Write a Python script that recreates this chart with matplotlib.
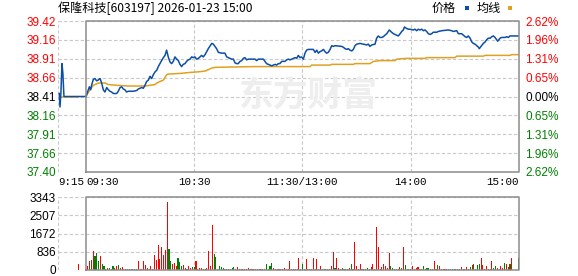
import numpy as np
import matplotlib
matplotlib.use('Agg')
import matplotlib.pyplot as plt
import matplotlib.transforms as mtransforms
from matplotlib.patches import Rectangle

# ---- data (minutes after 9:30, price) ----
title = '保隆科技[603197] 2026-01-23 15:00'

price_time = [0, 1.3, 1.9, 2.6, 3.1, 4.1, 5.0, 5.9, 6.8, 7.8, 8.7,
              9.6, 10.5, 11.5, 12.4, 13.3, 14.2, 15.2, 17.0, 17.9, 18.9,
              19.8, 20.7, 21.6, 22.5, 23.5, 26.2, 28.1, 29.0, 29.9, 30.9,
              31.8, 32.7, 33.6, 34.6, 35.5, 36.4, 37.3, 38.3, 39.2, 40.1,
              41.0, 41.9, 42.9, 43.8, 44.7, 45.6, 46.6, 47.5, 48.4, 49.3,
              50.3, 51.2, 52.1, 53.0, 53.9, 54.9, 55.8, 56.7, 57.7, 58.6,
              59.5, 60.4, 61.3, 62.3, 63.2, 64.1, 65.0, 66.0, 67.8, 69.7,
              70.6, 71.5, 72.4, 73.4, 75.2, 77.0, 78.0, 78.9, 79.8, 80.7,
              81.7, 82.6, 83.5, 84.4, 85.4, 86.3, 87.2, 88.1, 89.1, 90.0,
              93.7, 94.6, 95.5, 98.3, 99.2, 100.1, 101.1, 102.0, 102.9, 103.8,
              104.8, 105.7, 106.6, 107.5, 108.5, 110.3, 111.2, 112.2, 113.1, 114.0,
              115.0, 115.9, 116.8, 117.7, 118.6, 119.5, 120.5, 121.4, 122.3, 123.2,
              126.0, 127.0, 127.9, 128.8, 129.7, 130.6, 131.6, 132.5, 133.4, 134.3,
              135.3, 136.2, 137.1, 138.0, 141.7, 142.6, 143.6, 144.5, 145.4, 146.3,
              147.3, 148.2, 149.1, 150.0, 151.9, 153.7, 155.6, 156.5, 157.4, 158.4,
              160.2, 161.1, 162.0, 163.0, 163.9, 164.8, 165.7, 166.7, 168.1, 169.4,
              170.4, 171.3, 172.2, 173.1, 174.1, 175.0, 175.9, 176.5, 177.7, 178.7,
              179.6, 181.4, 182.4, 183.3, 184.2, 185.1, 186.1, 187.0, 187.9, 188.8,
              189.8, 190.7, 191.6, 192.5, 194.4, 195.3, 197.2, 200.8, 202.7, 203.6,
              205.5, 206.4, 208.2, 209.2, 210.1, 211.0, 211.9, 212.9, 213.8, 214.7,
              215.6, 216.6, 217.5, 218.0, 219.3, 220.2, 221.2, 222.1, 223.0, 224.0,
              224.9, 225.8, 226.7, 227.6, 228.2, 229.5, 230.4, 232.3, 233.2, 234.1,
              235.0, 236.9, 240]
price_value = [38.41, 38.50, 38.54, 38.50, 38.56, 38.64, 38.65, 38.62, 38.63, 38.65, 38.59,
               38.50, 38.47, 38.53, 38.50, 38.48, 38.47, 38.45, 38.45, 38.48, 38.53,
               38.54, 38.51, 38.50, 38.47, 38.48, 38.48, 38.49, 38.51, 38.52, 38.53,
               38.52, 38.56, 38.61, 38.63, 38.68, 38.65, 38.70, 38.74, 38.76, 38.81,
               38.85, 38.89, 38.93, 38.96, 39.03, 38.94, 38.87, 38.85, 38.88, 38.94,
               38.91, 38.89, 38.84, 38.81, 38.84, 38.85, 38.88, 38.90, 38.91, 38.94,
               38.93, 38.94, 38.91, 38.92, 38.94, 38.96, 38.94, 38.97, 39.05, 39.12,
               39.11, 39.08, 39.05, 39.00, 38.99, 38.99, 38.94, 38.93, 38.92, 38.91,
               38.91, 38.86, 38.85, 38.85, 38.88, 38.89, 38.92, 38.93, 38.90, 38.91,
               38.91, 38.89, 38.91, 38.91, 38.88, 38.85, 38.84, 38.83, 38.82, 38.83,
               38.84, 38.83, 38.85, 38.85, 38.88, 38.88, 38.90, 38.91, 38.90, 38.91,
               38.92, 38.93, 38.92, 38.96, 38.93, 38.94, 38.91, 38.99, 39.03, 39.04,
               39.04, 39.00, 39.03, 38.99, 39.01, 39.02, 39.04, 39.01, 38.99, 39.00,
               39.04, 39.09, 39.08, 39.09, 39.08, 39.07, 39.05, 39.04, 39.05, 39.03,
               39.02, 39.04, 39.09, 39.11, 39.12, 39.11, 39.10, 39.11, 39.08, 39.10,
               39.11, 39.19, 39.22, 39.20, 39.20, 39.21, 39.23, 39.25, 39.30, 39.27,
               39.25, 39.24, 39.23, 39.22, 39.25, 39.28, 39.30, 39.34, 39.32, 39.31,
               39.31, 39.30, 39.31, 39.29, 39.31, 39.30, 39.31, 39.29, 39.30, 39.28,
               39.25, 39.24, 39.25, 39.27, 39.27, 39.28, 39.29, 39.30, 39.29, 39.28,
               39.29, 39.25, 39.25, 39.23, 39.21, 39.20, 39.22, 39.19, 39.14, 39.12,
               39.11, 39.09, 39.07, 39.05, 39.09, 39.12, 39.14, 39.17, 39.19, 39.19,
               39.21, 39.22, 39.20, 39.17, 39.15, 39.19, 39.20, 39.20, 39.21, 39.20,
               39.22, 39.22, 39.22]

avg_time = [0, 2.2, 4.1, 6.8, 10.5, 12.4, 17.0, 23.5, 32.7, 35.5,
            38.3, 39.2, 41.0, 42.9, 44.7, 45.6, 53.0, 56.7, 62.3, 66.0,
            69.7, 71.5, 92.8, 124.2, 125.1, 135.3, 136.2, 148.2, 149.1, 157.4,
            159.3, 163.0, 171.3, 172.2, 177.7, 187.9, 188.8, 204.5, 205.5, 220.2,
            221.2, 235.0, 236.0, 240]
avg_value = [38.41, 38.50, 38.56, 38.59, 38.59, 38.57, 38.56, 38.55, 38.55, 38.56,
             38.57, 38.59, 38.61, 38.63, 38.70, 38.71, 38.72, 38.73, 38.74, 38.75,
             38.79, 38.80, 38.81, 38.81, 38.83, 38.83, 38.84, 38.84, 38.85, 38.85,
             38.88, 38.89, 38.89, 38.91, 38.92, 38.92, 38.93, 38.93, 38.95, 38.95,
             38.96, 38.96, 38.97, 38.97]

# call auction 9:15 - 9:30
pre_time = [-14.8, -14.4, -13.9, -13.3, -12.8, -12.2, 0]
pre_value = [38.45, 38.27, 38.45, 38.85, 38.72, 38.41, 38.41]
pre_avg_time = [-14.4, -4.4]
pre_avg_value = [38.40, 38.40]

price_labels = ['37.40', '37.66', '37.91', '38.16', '38.41', '38.66', '38.91', '39.16', '39.42']
pct_labels = ['2.62%', '1.96%', '1.31%', '0.65%', '0.00%', '0.65%', '1.31%', '1.96%', '2.62%']

# volume per minute (1..236, then 15:00), R = up, G = down
vol_values = [166, 424, 469, 878, 620, 772, 424, 651, 287, 166,
              60, 76, 106, 60, 197, 106, 197, 242, 76, 121,
              60, 60, 60, 60, 60, 60, 60, 60, 424, 60,
              60, 424, 242, 90, 60, 166, 60, 696, 469, 1150,
              514, 1059, 696, 923, 3100, 968, 424, 287, 333, 166,
              560, 378, 166, 242, 106, 60, 197, 106, 151, 151,
              424, 60, 106, 106, 60, 60, 106, 878, 197, 2058,
              741, 575, 60, 197, 151, 106, 60, 60, 60, 60,
              106, 151, 60, 151, 60, 60, 60, 60, 60, 106,
              60, 60, 60, 60, 60, 60, 60, 60, 60, 287,
              60, 197, 333, 106, 60, 60, 60, 60, 60, 106,
              60, 60, 424, 60, 60, 60, 60, 560, 60, 287,
              60, 514, 60, 60, 60, 560, 60, 514, 60, 197,
              60, 60, 60, 60, 60, 197, 832, 106, 560, 106,
              60, 106, 60, 60, 60, 106, 287, 60, 1286, 197,
              60, 287, 60, 60, 60, 106, 60, 151, 287, 60,
              1982, 1059, 60, 151, 287, 197, 106, 787, 197, 106,
              60, 60, 60, 151, 106, 1059, 242, 60, 60, 60,
              197, 60, 106, 151, 60, 60, 197, 60, 106, 106,
              60, 60, 424, 60, 242, 197, 60, 60, 60, 60,
              60, 60, 60, 60, 60, 60, 60, 151, 60, 60,
              151, 60, 151, 242, 287, 60, 242, 287, 560, 242,
              60, 197, 60, 60, 424, 106, 197, 106, 60, 197,
              106, 333, 287, 151, 287, 560,
              560]
vol_dir = list('RRGRGGGRGG' 'GRGGGRRGRR' 'GGGRGGGGRR' 'GRRRGRRRRR'
               'RRRRRGGRRR' 'GGGRRGRRGG' 'RGRRGGRRRR' 'GGRGGGRRGG'
               'GGRRRRRRRR' 'RRRGGRRGGG' 'GGGRRRRRRR' 'RRRGGRRRGG'
               'GRRGGRGRGR' 'GGGGRRRGRR' 'GGRGGRGRRR' 'RRGGGGGRRG'
               'RRGRRRRRGG' 'GGRRGRGGGG' 'RGRRRGGGGG' 'RRRGGRRRRR'
               'GGGGGGGRGR' 'RGGGRGGGRR' 'GRRGRGGRGR' 'RGRRGR' 'G')
vol_time = list(range(1, 237)) + [240]
pre_vol_time = [-4.3]
pre_vol_value = [287]
vol_labels = ['0', '836', '1672', '2507', '3343']

# ---- layout (pixel based) ----
W, H = 578, 276
fig = plt.figure(figsize=(W / 100, H / 100), dpi=100)

def px_box(l, t, r, b):
    return [l / W, 1 - b / H, (r - l) / W, (b - t) / H]

ax = fig.add_axes(px_box(58, 21, 519, 172))
axv = fig.add_axes(px_box(58, 197, 519, 270))

XL, XR = -15.5, 240
GRID = '#c8c8c8'
FRAME = '#8c8c8c'
RED, GREEN, BLACK = '#ff0000', '#008000', '#000000'
NUMFONT = 'Liberation Sans'
CJK = ['Noto Sans CJK SC', 'DejaVu Sans']
dash = (0, (3, 2))

lo, hi = 37.40, 39.42
price_ticks = np.linspace(lo, hi, len(price_labels))
vmax = 3343
vol_ticks = np.linspace(0, vmax, len(vol_labels))

for a, ticks, top in ((ax, price_ticks, hi), (axv, vol_ticks, vmax)):
    bottom = ticks[0]
    a.set_xlim(XL, XR)
    a.set_ylim(bottom, top)
    for s in a.spines.values():
        s.set_visible(False)
    a.set_xticks([])
    a.hlines(ticks, XL, XR, colors=GRID, linestyles=dash, lw=0.8, zorder=0)
    a.vlines([XL, 60, 120, 180], bottom, top, colors=GRID, linestyles=dash, lw=0.8, zorder=0)
    a.plot([0, XR, XR, 0, 0], [bottom, bottom, top, top, bottom], color=FRAME, lw=1.1,
           clip_on=False, zorder=5)

# watermark
ax.text(308 / W, 1 - 95 / H, '东方财富', transform=fig.transFigure, ha='center', va='center',
        fontsize=25, fontweight='bold', color='#eeeeee', family=CJK, zorder=0)

# price + average lines
ax.plot(pre_avg_time, pre_avg_value, color='#e0a020', lw=1.1, zorder=2)
ax.plot(pre_time, pre_value, color='#0d4ea6', lw=1.1, zorder=3)
ax.plot(avg_time, avg_value, color='#e0a020', lw=1.1, zorder=2)
ax.plot(price_time, price_value, color='#0d4ea6', lw=1.1, zorder=3)

# y labels left / right
mid = len(price_labels) // 2
colors = [GREEN] * mid + [BLACK] + [RED] * mid
ax.set_yticks(price_ticks, price_labels)
ax.tick_params(axis='y', length=0, pad=1.5, labelsize=8.5)
for lab, c in zip(ax.get_yticklabels(), colors):
    lab.set_color(c)
    lab.set_family(NUMFONT)

ax2 = ax.twinx()
ax2.set_ylim(lo, hi)
for s in ax2.spines.values():
    s.set_visible(False)
ax2.set_yticks(price_ticks, pct_labels[::-1])
ax2.tick_params(axis='y', length=0, pad=4.5, labelsize=8.5)
for lab, c in zip(ax2.get_yticklabels(), colors):
    lab.set_color(c)
    lab.set_family(NUMFONT)

# time labels
trans = mtransforms.blended_transform_factory(ax.transData, ax.transAxes)
time_labels = [(XL, '9:15', 'left'), (0, '09:30', 'left'), (60, '10:30', 'center'),
               (120, '11:30/13:00', 'center'), (180, '14:00', 'center'), (240, '15:00', 'right')]
for x, s, ha in time_labels:
    ax.text(x, -0.066, s, transform=trans, ha=ha, va='center', fontsize=7.8,
            family='Liberation Mono', color=BLACK)

# volume bars
bar_colors = [RED if d == 'R' else GREEN for d in vol_dir]
axv.bar(vol_time, vol_values, width=0.6, color=bar_colors, zorder=2)
axv.bar(pre_vol_time, pre_vol_value, width=0.6, color=RED, zorder=2)
axv.set_yticks(vol_ticks, vol_labels)
axv.tick_params(axis='y', length=0, pad=1.5, labelsize=8.5)
for lab in axv.get_yticklabels():
    lab.set_family(NUMFONT)

# title + legend
fig.text(58 / W, 1 - 8 / H, title, ha='left', va='center', fontsize=8.7, family=CJK)
fig.text(432 / W, 1 - 8 / H, '价格', ha='left', va='center', fontsize=8.7, family=CJK)
fig.text(477 / W, 1 - 8 / H, '均线', ha='left', va='center', fontsize=8.7, family=CJK)
fig.add_artist(Rectangle((465 / W, 1 - 9.5 / H), 4 / W, 3 / H, transform=fig.transFigure,
                         color='#0d4ea6', lw=0))
fig.add_artist(Rectangle((508 / W, 1 - 9.5 / H), 4 / W, 3 / H, transform=fig.transFigure,
                         color='#e0a020', lw=0))

fig.savefig('out.png', dpi=100)
